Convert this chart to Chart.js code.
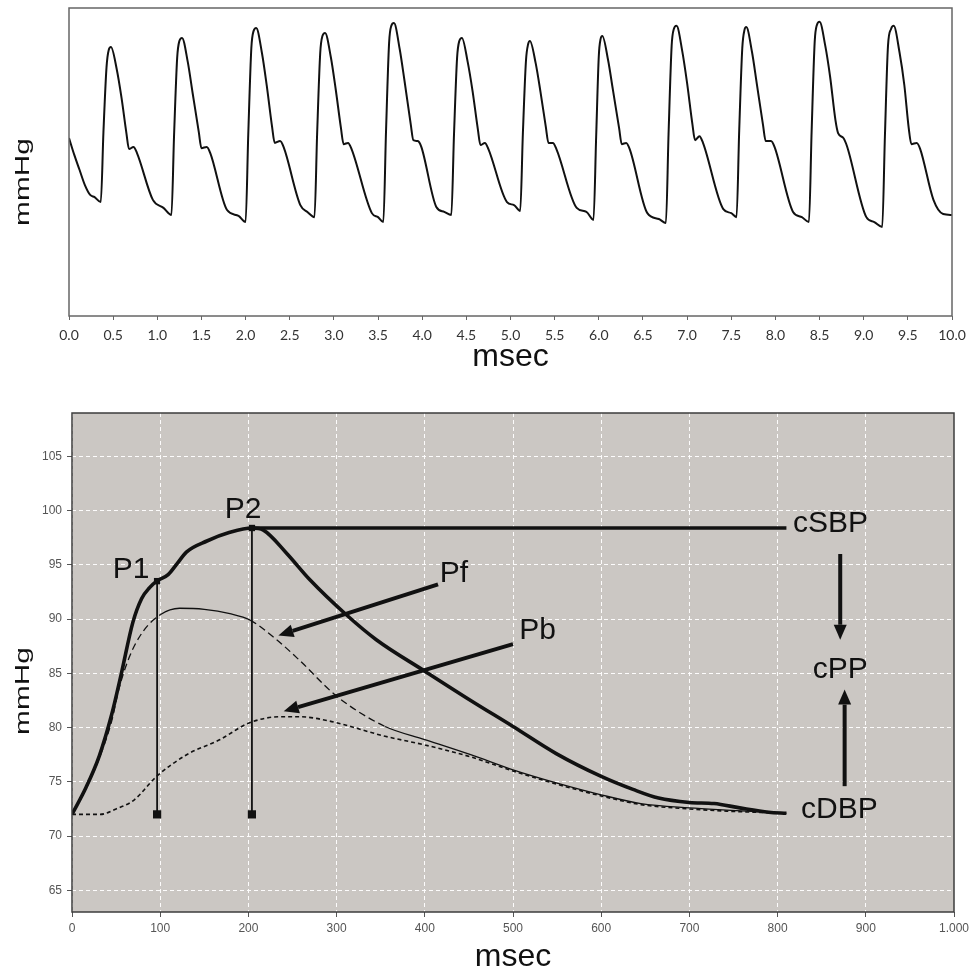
<!DOCTYPE html>
<html>
<head>
<meta charset="utf-8">
<script src="https://cdn.jsdelivr.net/npm/chart.js@4.4.1/dist/chart.umd.min.js"></script>
<style>
  html, body { margin: 0; padding: 0; background: #fff; }
  #wrap { position: relative; width: 969px; height: 975px; }
  #top { position: absolute; left: 0; top: 0; width: 969px; height: 380px; }
  #bottom { position: absolute; left: 0; top: 380px; width: 969px; height: 595px; }
</style>
</head>
<body>
<div id="wrap">
  <canvas id="top" width="969" height="380"></canvas>
  <canvas id="bottom" width="969" height="595"></canvas>
</div>
<script>
// ---- top panel: pressure trace (time in s, pressure in mmHg) ----
const waveT = [0, 0.06, 0.12, 0.18, 0.24, 0.29, 0.36,
  0.39, 0.425, 0.45, 0.475, 0.54, 0.595, 0.65, 0.68, 0.73, 0.77, 0.95, 1.07, 1.16,
  1.19, 1.225, 1.25, 1.28, 1.345, 1.40, 1.47, 1.50, 1.56, 1.60, 1.79, 1.92, 2.00,
  2.03, 2.065, 2.09, 2.12, 2.185, 2.24, 2.30, 2.33, 2.39, 2.43, 2.62, 2.70, 2.78,
  2.81, 2.845, 2.87, 2.90, 2.965, 3.02, 3.08, 3.11, 3.16, 3.20, 3.43, 3.50, 3.56,
  3.59, 3.625, 3.65, 3.68, 3.745, 3.80, 3.87, 3.90, 3.95, 3.99, 4.16, 4.25, 4.33,
  4.36, 4.395, 4.42, 4.45, 4.515, 4.57, 4.63, 4.66, 4.71, 4.75, 4.96, 5.04, 5.11,
  5.14, 5.175, 5.20, 5.22, 5.285, 5.34, 5.40, 5.43, 5.48, 5.52, 5.75, 5.86, 5.94,
  5.97, 6.00, 6.02, 6.04, 6.105, 6.16, 6.23, 6.26, 6.31, 6.35, 6.55, 6.68, 6.76,
  6.79, 6.825, 6.85, 6.88, 6.945, 7.00, 7.06, 7.09, 7.14, 7.18, 7.41, 7.50, 7.56,
  7.59, 7.625, 7.65, 7.67, 7.735, 7.79, 7.86, 7.89, 7.95, 7.99, 8.20, 8.30, 8.38,
  8.41, 8.445, 8.47, 8.50, 8.565, 8.62, 8.68, 8.71, 8.77, 8.81, 9.03, 9.12, 9.21,
  9.24, 9.275, 9.31, 9.34, 9.405, 9.46, 9.51, 9.54, 9.60, 9.64, 9.79, 9.90, 10.0];
const waveP = [97.8, 92.3, 87.4, 82.5, 79.3, 78.6, 77.0,
  99.7, 120.8, 126.4, 127.3, 120.2, 110.8, 99.4, 94.2, 94.9, 92.9, 77.7, 75.1, 72.8,
  98.8, 123.8, 129.3, 130.3, 122.5, 112.4, 99.7, 94.5, 94.9, 92.9, 74.4, 72.5, 70.5,
  98.8, 127.0, 132.5, 133.5, 125.4, 114.7, 101.4, 96.2, 96.8, 94.9, 76.0, 73.8, 72.1,
  99.1, 125.4, 130.9, 131.9, 124.1, 113.7, 101.0, 95.8, 96.2, 94.2, 73.4, 72.1, 70.5,
  99.7, 128.6, 134.2, 135.1, 126.7, 116.3, 102.3, 97.1, 96.8, 94.9, 75.4, 73.8, 72.8,
  98.8, 123.8, 129.3, 130.3, 122.5, 113.1, 100.7, 95.5, 96.2, 94.2, 77.0, 76.0, 74.1,
  99.1, 122.8, 128.3, 129.3, 122.1, 112.7, 101.4, 96.2, 96.2, 94.2, 75.1, 73.8, 71.2,
  98.1, 124.4, 129.9, 130.9, 123.1, 113.4, 101.0, 95.8, 96.2, 94.2, 73.4, 71.5, 70.2,
  99.1, 127.7, 133.2, 134.2, 126.0, 115.6, 102.3, 97.1, 98.4, 96.2, 74.7, 73.4, 72.1,
  100.1, 127.0, 132.9, 133.8, 125.7, 115.3, 102.0, 96.8, 96.8, 94.9, 73.8, 72.1, 70.5,
  99.7, 129.0, 134.5, 135.5, 127.7, 117.6, 103.6, 99.4, 97.8, 95.2, 72.1, 70.5, 68.9,
  98.1, 127.7, 133.2, 134.2, 125.7, 115.0, 101.0, 95.8, 96.2, 94.2, 77.7, 73.1, 72.8];
const topTicks = [0, 0.5, 1, 1.5, 2, 2.5, 3, 3.5, 4, 4.5, 5, 5.5, 6, 6.5, 7, 7.5, 8, 8.5, 9, 9.5, 10];

// ---- bottom panel: one beat (ms, mmHg) ----
// measured central pressure
const msT = [0, 16, 31, 45, 56, 69, 79, 88, 96, 109, 119, 130, 153, 179, 204, 217, 243, 270, 311, 345,
  400, 452, 500, 549, 600, 636, 665, 700, 728, 757, 790, 810];
const msP = [72.0, 74.5, 77.4, 81.2, 85.0, 89.7, 91.9, 92.9, 93.5, 94.1, 95.1, 96.2, 97.2, 98.0, 98.4, 98.2, 96.1, 93.6, 90.4, 88.1,
  85.2, 82.5, 80.1, 77.6, 75.5, 74.3, 73.5, 73.1, 73.0, 72.6, 72.2, 72.1];
// forward wave Pf
const pfT = [0, 16, 31, 45, 53, 65, 80, 100, 122, 150, 179, 202, 232, 258, 300, 355, 400, 452, 500, 549,
  600, 645, 700, 742, 790, 810];
const pfP = [72.0, 74.4, 77.2, 80.6, 83.5, 86.5, 88.8, 90.4, 91.0, 90.9, 90.5, 89.9, 88.1, 86.2, 82.9, 80.1, 78.9, 77.5, 76.1, 74.9,
  73.8, 73.0, 72.6, 72.4, 72.2, 72.1];
// backward wave Pb
const pbT = [0, 32, 50, 70, 96, 130, 168, 200, 236, 258, 292, 355, 400, 452, 500, 549, 600, 645, 700, 742, 790, 810];
const pbP = [72.0, 72.0, 72.5, 73.3, 75.5, 77.5, 78.9, 80.4, 81.0, 81.0, 80.6, 79.2, 78.4, 77.3, 76.0, 74.8, 73.7, 72.9, 72.5, 72.3, 72.15, 72.1];
// P1 / P2 markers and systolic level
const p1T = [96.5, 96.5], p1P = [72, 93.5];
const p2T = [204, 204], p2P = [72, 98.4];
const sbpT = [204, 810], sbpP = [98.4, 98.4];
const bxTicks = [0, 100, 200, 300, 400, 500, 600, 700, 800, 900, 1000];
const byTicks = [65, 70, 75, 80, 85, 90, 95, 100, 105];

// annotations (data coords)
const labelText = ['P1', 'P2', 'Pf', 'Pb', 'cSBP', 'cPP', 'cDBP'];
const labelX = [67, 194, 433, 528, 860, 871, 870];
const labelY = [94.75, 100.35, 94.4, 89.2, 99.0, 85.6, 72.65];
const arrowFromX = [415, 500, 871, 876], arrowFromY = [93.2, 87.7, 96.0, 74.6];
const arrowToX = [234, 240, 871, 876], arrowToY = [88.5, 81.5, 88.1, 83.5];

const FONT = "'Liberation Sans', Arial, sans-serif";
const pts = (xs, ys) => xs.map((v, i) => ({x: v, y: ys[i]}));

// background, frame and axis titles
const boxPlugin = {
  id: 'box',
  beforeDraw(chart, args, o) {
    if (!o.fill) return;
    const {ctx, chartArea: a} = chart;
    ctx.save();
    ctx.fillStyle = o.fill;
    ctx.fillRect(a.left, a.top, a.right - a.left, a.bottom - a.top);
    ctx.restore();
  },
  afterDraw(chart, args, o) {
    const {ctx, chartArea: a} = chart;
    ctx.save();
    ctx.strokeStyle = o.color;
    ctx.lineWidth = o.width;
    ctx.strokeRect(a.left, a.top, a.right - a.left, a.bottom - a.top);
    ctx.fillStyle = '#111';
    (o.titles || []).forEach(t => {
      ctx.save();
      ctx.translate(t.x === 'center' ? (a.left + a.right) / 2 : t.x, t.y);
      if (t.rotate) ctx.rotate(-Math.PI / 2);
      ctx.scale(t.sx || 1, t.sy || 1);
      ctx.font = t.size + 'px ' + FONT;
      ctx.textAlign = 'center';
      ctx.textBaseline = 'middle';
      ctx.fillText(t.text, 0, 0);
      ctx.restore();
    });
    ctx.restore();
  }
};

function drawArrow(ctx, x1, y1, x2, y2) {
  const head = 15, hw = 6.5;
  const ang = Math.atan2(y2 - y1, x2 - x1);
  const bx = x2 - head * Math.cos(ang), by = y2 - head * Math.sin(ang);
  ctx.lineWidth = 4;
  ctx.beginPath(); ctx.moveTo(x1, y1); ctx.lineTo(bx, by); ctx.stroke();
  ctx.beginPath();
  ctx.moveTo(x2, y2);
  ctx.lineTo(bx + hw * Math.sin(ang), by - hw * Math.cos(ang));
  ctx.lineTo(bx - hw * Math.sin(ang), by + hw * Math.cos(ang));
  ctx.closePath(); ctx.fill();
}

const notePlugin = {
  id: 'notes',
  afterDatasetsDraw(chart) {
    const {ctx, scales: {x, y}} = chart;
    ctx.save();
    ctx.fillStyle = '#111';
    ctx.strokeStyle = '#111';
    arrowFromX.forEach((v, i) => drawArrow(ctx,
      x.getPixelForValue(arrowFromX[i]), y.getPixelForValue(arrowFromY[i]),
      x.getPixelForValue(arrowToX[i]), y.getPixelForValue(arrowToY[i])));
    const size = 30;
    ctx.font = size + 'px ' + FONT;
    ctx.textAlign = 'center';
    ctx.textBaseline = 'alphabetic';
    labelText.forEach((s, i) => ctx.fillText(s, x.getPixelForValue(labelX[i]), y.getPixelForValue(labelY[i]) + size * 0.358));
    ctx.restore();
  }
};

new Chart(document.getElementById('top'), {
  type: 'line',
  data: {
    datasets: [{
      data: pts(waveT, waveP),
      borderColor: '#111',
      borderWidth: 2,
      pointRadius: 0,
      cubicInterpolationMode: 'monotone'
    }]
  },
  options: {
    responsive: false,
    animation: false,
    devicePixelRatio: 1,
    layout: {padding: {left: 0, top: 8, right: 17, bottom: 0}},
    plugins: {
      legend: {display: false},
      tooltip: {enabled: false},
      box: {
        color: '#666', width: 1.5,
        titles: [
          {text: 'msec', x: 'center', y: 357, size: 32},
          {text: 'mmHg', x: 23, y: 182, size: 21, sx: 1.42, rotate: true}
        ]
      }
    },
    scales: {
      x: {
        type: 'linear', min: 0, max: 10,
        afterBuildTicks: s => { s.ticks = topTicks.map(v => ({value: v})); },
        afterFit: s => { s.height = 64; s.paddingLeft = 0; s.paddingRight = 0; },
        grid: {drawOnChartArea: false, drawTicks: true, tickLength: 4, tickColor: '#666', tickWidth: 1},
        border: {display: false},
        ticks: {font: {family: 'Lato', size: 14}, color: '#333', padding: 7, maxRotation: 0, autoSkip: false,
          callback: v => Number(v).toFixed(1)}
      },
      y: {
        min: 40, max: 140,
        afterFit: s => { s.width = 69; },
        grid: {display: false},
        border: {display: false},
        ticks: {display: false}
      }
    }
  },
  plugins: [boxPlugin]
});

const pfDashed = x => (x < 100) || (x >= 202 && x < 340);

new Chart(document.getElementById('bottom'), {
  type: 'line',
  data: {
    datasets: [
      {data: pts(pbT, pbP), borderColor: '#111', borderWidth: 1.6, borderDash: [4, 3], pointRadius: 0, cubicInterpolationMode: 'monotone'},
      {data: pts(pfT, pfP), borderColor: '#111', borderWidth: 1.3, pointRadius: 0, cubicInterpolationMode: 'monotone',
        segment: {borderDash: c => pfDashed(c.p0.parsed.x) ? [7, 4] : undefined}},
      {data: pts(msT, msP), borderColor: '#111', borderWidth: 3.6, pointRadius: 0, cubicInterpolationMode: 'monotone'},
      {data: pts(sbpT, sbpP), borderColor: '#111', borderWidth: 3.6, pointRadius: 0},
      {data: pts(p1T, p1P), borderColor: '#111', borderWidth: 1.8, pointStyle: 'rect', pointRadius: [5.8, 4.5],
        pointBackgroundColor: '#111', pointBorderWidth: 0},
      {data: pts(p2T, p2P), borderColor: '#111', borderWidth: 1.8, pointStyle: 'rect', pointRadius: [5.8, 4.5],
        pointBackgroundColor: '#111', pointBorderWidth: 0}
    ]
  },
  options: {
    responsive: false,
    animation: false,
    devicePixelRatio: 1,
    layout: {padding: {left: 0, top: 33, right: 15, bottom: 0}},
    plugins: {
      legend: {display: false},
      tooltip: {enabled: false},
      box: {
        fill: '#cbc7c3', color: '#3c3c3c', width: 1.5,
        titles: [
          {text: 'msec', x: 'center', y: 577, size: 32},
          {text: 'mmHg', x: 23, y: 311, size: 21, sx: 1.42, rotate: true}
        ]
      }
    },
    scales: {
      x: {
        type: 'linear', min: 0, max: 1000,
        afterBuildTicks: s => { s.ticks = bxTicks.map(v => ({value: v})); },
        afterFit: s => { s.height = 63; s.paddingLeft = 0; s.paddingRight = 0; },
        grid: {color: 'rgba(255,255,255,0.95)', lineWidth: 1, tickLength: 5, tickColor: '#555', tickWidth: 1},
        border: {display: false, dash: [4, 3]},
        ticks: {font: {family: FONT, size: 12}, color: '#555', padding: 4, maxRotation: 0, autoSkip: false,
          callback: v => v === 1000 ? '1.000' : String(v)}
      },
      y: {
        min: 63, max: 109,
        afterBuildTicks: s => { s.ticks = byTicks.map(v => ({value: v})); },
        afterFit: s => { s.width = 72; },
        grid: {color: 'rgba(255,255,255,0.95)', lineWidth: 1, tickLength: 5, tickColor: '#555', tickWidth: 1},
        border: {display: false, dash: [4, 3]},
        ticks: {font: {family: FONT, size: 12}, color: '#555', padding: 5}
      }
    }
  },
  plugins: [boxPlugin, notePlugin]
});
</script>
</body>
</html>
